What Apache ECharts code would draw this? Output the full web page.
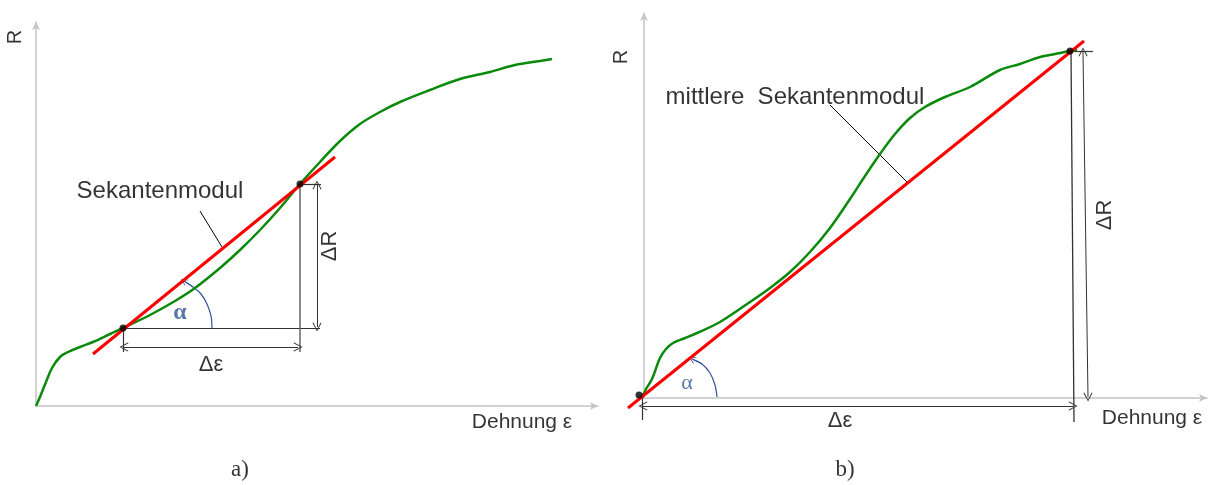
<!DOCTYPE html>
<html>
<head>
<meta charset="utf-8">
<script src="https://cdn.jsdelivr.net/npm/echarts@6/dist/echarts.min.js"></script>
<style>html,body{margin:0;padding:0;background:#fff}#c{width:1211px;height:485px}</style>
</head>
<body>
<div id="c"></div>
<script>
// ---------- Panel a) (Sekantenmodul) : [epsilon, R] in chart units ----------
const curveA = [[0,0],[4,9],[10,24],[16,38],[24,49],[32,54],[44,59],[57,64],[74,72],[87,78],[114,91],[139,105],[159,118],[184,138],[204,156],[224,176],[244,198],[264,222],[284,244],[304,265],[324,282],[344,294],[364,304],[394,316],[424,327],[454,334],[479,341],[504,345],[516,347]];
const secantA = [[57,52],[299,249]];
const pointsA = [[87,78],[264,222]];
const baseLineA = [[87,78],[284,78]];
const vertLineA = [[264,222],[264,54]];
const topTickA = [[264,222],[285,222]];
const leftTickA = [[87,78],[87,54]];
const dRArrowA = [[281,221],[281,79]];
const dEpsArrowA = [[88,59],[262,59]];
const arcA = [[176,78],[175,90],[171,102],[165,112],[157,119],[148,125]];
const leaderA = [[164,195],[186,159]];

// ---------- Panel b) (mittlerer Sekantenmodul) ----------
const curveB = [[-2,0],[2,9],[8,19],[16,40],[22,49],[29,55],[41,60],[53,65],[76,76],[106,96],[126,110],[146,126],[166,146],[186,170],[206,199],[221,222],[236,244],[251,264],[266,280],[281,291],[301,301],[326,311],[356,328],[376,334],[396,341],[411,344],[426,347],[433,348]];
const secantB = [[-16,-10],[440,357]];
const pointsB = [[-5,3],[426,347]];
const vertLineB = [[427,347],[430,-24]];
const topTickB = [[426,347],[449,347]];
const leftTickB = [[-2,5],[-2,-22]];
const dRArrowB = [[439,346],[444,1]];
const dEpsArrowB = [[-1,-8],[429,-8]];
const arcB = [[73,1],[71,13],[66,25],[58,34],[48,39]];
const leaderB = [[186,293],[263,216]];

// ---------- texts ----------
const textsA = [
  {t:'R', p:[-21,369], size:20, rot:90},
  {t:'Dehnung ε', p:[486,-16], size:21},
  {t:'Sekantenmodul', p:[124,215], size:24},
  {t:'ΔR', p:[294,160], size:22, rot:90},
  {t:'Δε', p:[175,41], size:22},
  {t:'α', p:[144,93], size:24, color:'#2F5496', bold:true, serif:true},
  {t:'a)', p:[204,-64], size:23, serif:true}
];
const textsB = [
  {t:'R', p:[-23,341], size:20, rot:90},
  {t:'Dehnung ε', p:[508,-20], size:21},
  {t:'mittlere  Sekantenmodul', p:[151,301], size:24},
  {t:'ΔR', p:[461,183], size:22, rot:90},
  {t:'Δε', p:[196,-23], size:22},
  {t:'α', p:[43,15], size:22, color:'#2F5496', serif:true},
  {t:'b)', p:[201,-72], size:23, serif:true}
];

const GREEN = '#0a8a0a', RED = '#ff0000', DIM = '#333', AX = '#c4c4c4';
const CHEVRON = 'path://M0,0 L6,10 L4.9,10.7 L0,2.2 L-4.9,10.7 L-6,10 Z';

function seg(coords, gi, color, width, z) {
  return {type:'lines', coordinateSystem:'cartesian2d', xAxisIndex:gi, yAxisIndex:gi, silent:true, clip:false,
    z:z||2, symbol:'none', lineStyle:{color:color, width:width, opacity:1}, data:[{coords:coords}]};
}
function line(data, gi, color, width, z) {
  return {type:'line', xAxisIndex:gi, yAxisIndex:gi, data:data, showSymbol:false, symbol:'none',
    smooth:false, clip:false, silent:true, z:z||2, lineStyle:{color:color, width:width}};
}
function curve(data, gi, color, width, z) {
  const s = line(data, gi, color, width, z); s.smooth = 0.35; return s;
}
function arrow(coords, gi, both, color, size) {
  const s = seg(coords, gi, color||DIM, 1, 3);
  s.symbol = both ? [CHEVRON, CHEVRON] : ['none', CHEVRON];
  s.symbolSize = size || 9;
  return s;
}
function dots(data, gi) {
  return {type:'scatter', xAxisIndex:gi, yAxisIndex:gi, data:data, symbolSize:7, clip:false, silent:true, z:5,
    itemStyle:{color:'#000'}};
}
function texts(list, gi) {
  return list.map(o => ({type:'scatter', xAxisIndex:gi, yAxisIndex:gi, clip:false, silent:true, z:6,
    symbolSize:0, data:[o.p],
    label:{show:true, position:'inside', formatter:o.t, rotate:o.rot||0, fontSize:o.size,
      fontFamily:o.serif ? '"Liberation Serif", serif' : '"Liberation Sans", Arial, sans-serif',
      fontWeight:o.bold ? 'bold' : 'normal', color:o.color||'#000'}}));
}
function axis(gi, max) {
  return {type:'value', min:0, max:max, gridIndex:gi,
    axisLine:{show:true, onZero:false, symbol:['none','arrow'], symbolSize:[6,8], lineStyle:{color:AX, width:1.5}},
    axisTick:{show:false}, axisLabel:{show:false}, splitLine:{show:false}};
}

const series = [
  // panel a
  seg(baseLineA, 0, DIM, 1.2),
  seg(vertLineA, 0, '#666', 1.5),
  seg(topTickA, 0, DIM, 1.2),
  seg(leftTickA, 0, DIM, 1.2),
  arrow(dRArrowA, 0, true),
  arrow(dEpsArrowA, 0, true),
  seg(leaderA, 0, '#000', 1),
  curve(curveA, 0, GREEN, 2.5, 3),
  seg(secantA, 0, RED, 3, 4),
  curve(arcA, 0, '#2F5496', 1.2),
  arrow(arcA.slice(-2), 0, false, '#2F5496', 7),
  dots(pointsA, 0),
  ...texts(textsA, 0),
  // panel b
  seg(vertLineB, 1, '#333', 1.3),
  seg(topTickB, 1, DIM, 1.2),
  seg(leftTickB, 1, DIM, 1.2),
  arrow(dRArrowB, 1, true),
  arrow(dEpsArrowB, 1, true),
  seg(leaderB, 1, '#000', 1),
  curve(curveB, 1, GREEN, 2.5, 3),
  seg(secantB, 1, RED, 3, 4),
  curve(arcB, 1, '#2F5496', 1.2),
  arrow(arcB.slice(-2), 1, false, '#2F5496', 7),
  dots(pointsB, 1),
  ...texts(textsB, 1)
];

const chart = echarts.init(document.getElementById('c'), null, {renderer:'canvas'});
chart.setOption({
  animation:false,
  backgroundColor:'#fff',
  grid:[
    {left:36, top:22, width:562, height:384},
    {left:644, top:13, width:563, height:385}
  ],
  xAxis:[axis(0, 562), axis(1, 563)],
  yAxis:[axis(0, 384), axis(1, 385)],
  series: series
});
</script>
</body>
</html>
